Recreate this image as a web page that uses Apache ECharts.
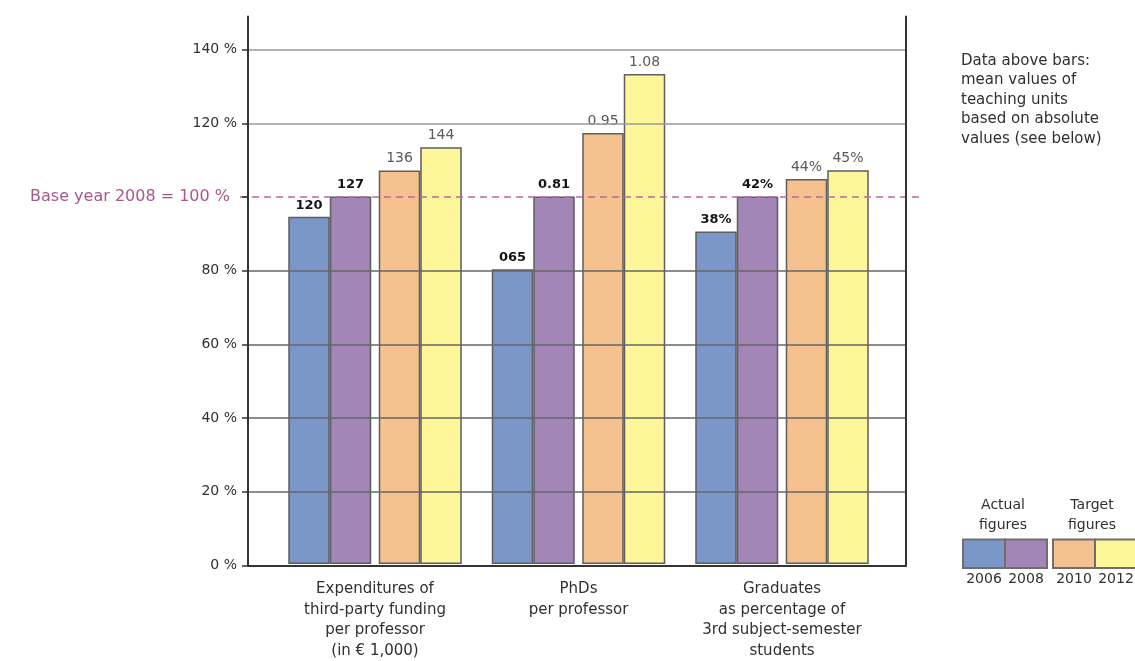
<!DOCTYPE html>
<html>
<head>
<meta charset="utf-8">
<script src="https://cdn.jsdelivr.net/npm/echarts@6/dist/echarts.min.js"></script>
<style>
  html, body { margin: 0; padding: 0; background: #fff; }
  #chart { width: 1135px; height: 661px; }
</style>
</head>
<body>
<div id="chart"></div>
<script>
// Indicator groups on the x axis
const categories = [
  'Expenditures of\nthird-party funding\nper professor\n(in € 1,000)',
  'PhDs\nper professor',
  'Graduates\nas percentage of\n3rd subject-semester\nstudents'
];

// Years: 2006 and 2008 are actual figures, 2010 and 2012 are targets
const years = ['2006', '2008', '2010', '2012'];
const actualYears = ['2006', '2008'];
const baseYearIndex = 1; // 2008 = 100 %

// Absolute values per indicator, one entry per year
const fundingValues = [120, 127, 136, 144];
const phdValues = [0.65, 0.81, 0.95, 1.08];
const graduateValues = [38, 42, 44, 45];

// Texts printed above the bars
const fundingLabels = ['120', '127', '136', '144'];
const phdLabels = ['065', '0.81', '0.95', '1.08'];
const graduateLabels = ['38%', '42%', '44%', '45%'];

// Y axis ticks (percent of base year)
const yTickValues = [0, 20, 40, 60, 80, 100, 120, 140];
const yLabelValues = [0, 20, 40, 60, 80, 120, 140];
const Y_MAX = 149;
const BASE_PERCENT = 100;

const yearColors = ['#7b97c9', '#a186b7', '#f4c18f', '#fef79a'];

const noteText = 'Data above bars:\nmean values of\nteaching units\nbased on absolute\nvalues (see below)';

const FONT = '"DejaVu Sans", "Liberation Sans", sans-serif';
const TEXT = '#303030';

const valueSets = [fundingValues, phdValues, graduateValues];
const labelSets = [fundingLabels, phdLabels, graduateLabels];

// Each indicator is shown relative to its base year value
function percentOfBase(values, i) {
  return values[i] / values[baseYearIndex] * 100;
}

const barSeries = [];
years.forEach(function (year, yi) {
  const isActual = actualYears.indexOf(year) >= 0;
  if (yi === 2) {
    // thin empty slot separating actual and target bars
    barSeries.push({
      name: 'gap', type: 'bar', xAxisIndex: 1, yAxisIndex: 2,
      barWidth: 7.5, barGap: '0%', silent: true,
      data: categories.map(function () { return null; })
    });
  }
  barSeries.push({
    name: year,
    type: 'bar',
    xAxisIndex: 1,
    yAxisIndex: 2,
    barWidth: 41.5,
    barGap: '0%',
    z: 2,
    itemStyle: { color: yearColors[yi], borderColor: '#5e5e5e', borderWidth: 1.5 },
    label: {
      show: true,
      position: 'top',
      distance: 5,
      fontFamily: FONT,
      fontSize: isActual ? 13 : 14,
      fontWeight: isActual ? 'bold' : 'normal',
      color: isActual ? '#151515' : '#5a5a5a',
      formatter: function (p) { return labelSets[p.dataIndex][yi]; }
    },
    data: valueSets.map(function (vals) { return percentOfBase(vals, yi); })
  });
});

const axisLineStyle = { color: '#333', width: 2 };

const legendBoxes = [];
const boxLefts = [963, 1005, 1053, 1095];
years.forEach(function (year, yi) {
  legendBoxes.push({
    type: 'rect',
    shape: { x: boxLefts[yi], y: 539.5, width: 42, height: 28.5 },
    style: { fill: yearColors[yi], stroke: '#6e6e6e', lineWidth: 2 }
  });
  legendBoxes.push({
    type: 'text',
    x: boxLefts[yi] + 21, y: 579,
    style: { text: year, font: '14px ' + FONT, fill: TEXT, align: 'center', verticalAlign: 'middle' }
  });
});

const option = {
  animation: false,
  backgroundColor: '#ffffff',
  textStyle: { fontFamily: FONT },
  grid: [
    { left: 248, right: 229, top: 16.5, bottom: 95.5 },
    { left: 273.25, right: 251.25, top: 16.5, bottom: 95.5 },
    { left: 240, right: 216, top: 16.5, bottom: 95.5 }
  ],
  xAxis: [
    {
      gridIndex: 0, type: 'value', min: 0, max: 1, z: 5,
      axisLine: { show: true, onZero: false, lineStyle: axisLineStyle },
      axisTick: { show: false }, axisLabel: { show: false }, splitLine: { show: false }
    },
    {
      gridIndex: 1, type: 'category', data: categories,
      axisLine: { show: false }, axisTick: { show: false },
      axisLabel: { margin: 15, fontSize: 15, lineHeight: 20.5, color: TEXT, fontFamily: FONT, interval: 0 }
    },
    { gridIndex: 2, type: 'value', min: 0, max: 1, show: false }
  ],
  yAxis: [
    {
      gridIndex: 0, type: 'value', min: 0, max: Y_MAX, interval: 20, z: 5,
      axisLine: { show: true, onZero: false, lineStyle: axisLineStyle },
      axisTick: { show: true, length: 6, customValues: yTickValues, lineStyle: { color: '#333', width: 1.5 } },
      axisLabel: {
        customValues: yLabelValues, margin: 11, fontSize: 14, color: TEXT, fontFamily: FONT,
        formatter: function (v) { return (v % 20 === 0 && v !== BASE_PERCENT) ? v + ' %' : ''; }
      },
      splitLine: {
        show: true,
        lineStyle: {
          width: 1.5,
          color: ['#666', '#666', '#666', '#666', '#666', 'rgba(0,0,0,0)', '#9a9a9a', '#9a9a9a', 'rgba(0,0,0,0)']
        }
      }
    },
    {
      gridIndex: 0, type: 'value', position: 'right', min: 0, max: Y_MAX, z: 5,
      axisLine: { show: true, onZero: false, lineStyle: axisLineStyle },
      axisTick: { show: false }, axisLabel: { show: false }, splitLine: { show: false }
    },
    { gridIndex: 1, type: 'value', min: 0, max: Y_MAX, show: false },
    { gridIndex: 2, type: 'value', min: 0, max: Y_MAX, show: false }
  ],
  series: barSeries.concat([
    {
      name: 'base',
      type: 'line',
      xAxisIndex: 2,
      yAxisIndex: 3,
      data: [],
      silent: true,
      z: 6,
      markLine: {
        silent: true,
        symbol: ['none', 'none'],
        data: [{ yAxis: BASE_PERCENT }],
        lineStyle: { color: '#b8699c', type: [7, 5], width: 1.5 },
        label: {
          position: 'start',
          distance: 10,
          formatter: 'Base year 2008 = 100 %',
          color: '#a8588c',
          fontSize: 16,
          fontFamily: FONT
        }
      }
    }
  ]),
  graphic: [
    {
      type: 'text', x: 961, y: 51,
      style: { text: noteText, font: '15px ' + FONT, fill: TEXT, lineHeight: 19.6 }
    },
    {
      type: 'text', x: 1003, y: 495,
      style: { text: 'Actual\nfigures', font: '14px ' + FONT, fill: TEXT, align: 'center', lineHeight: 20 }
    },
    {
      type: 'text', x: 1092, y: 495,
      style: { text: 'Target\nfigures', font: '14px ' + FONT, fill: TEXT, align: 'center', lineHeight: 20 }
    }
  ].concat(legendBoxes)
};

const chart = echarts.init(document.getElementById('chart'), null, { renderer: 'canvas' });
chart.setOption(option);
</script>
</body>
</html>
